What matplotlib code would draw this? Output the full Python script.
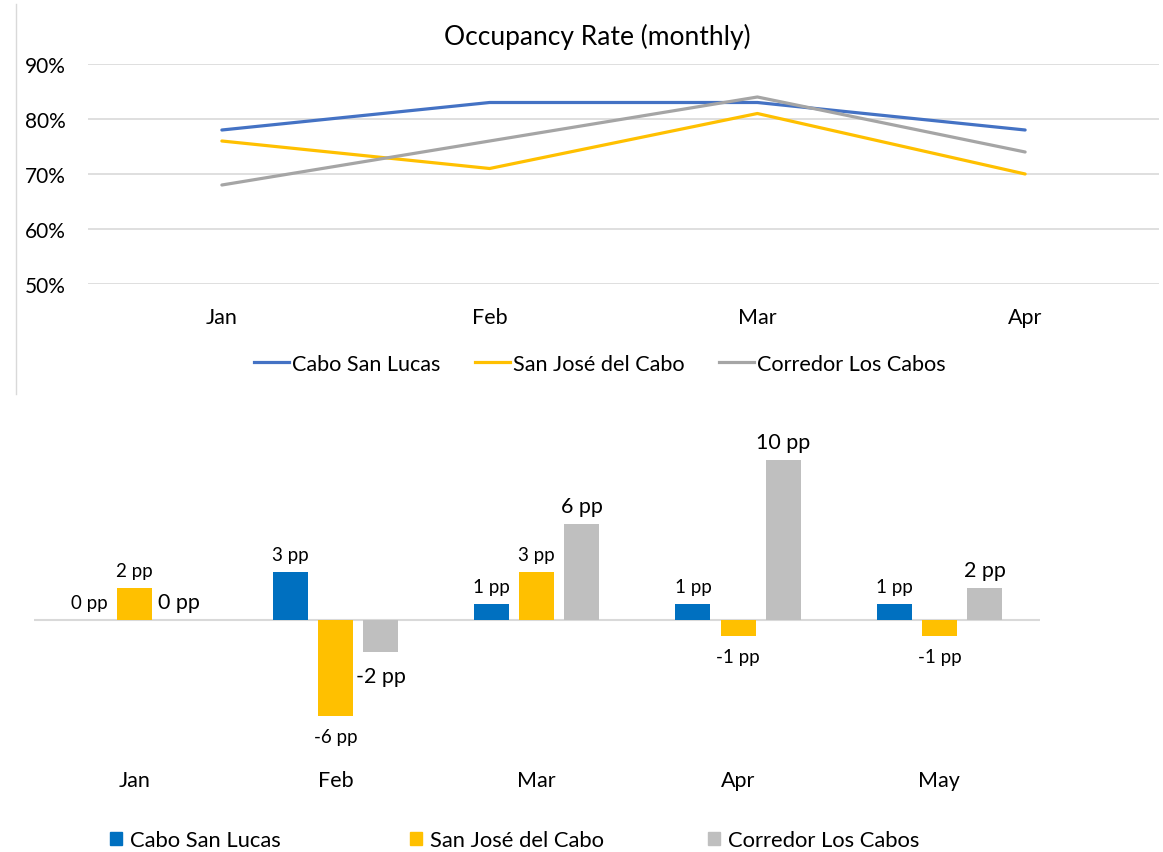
import matplotlib
matplotlib.use('Agg')
import matplotlib.pyplot as plt
from matplotlib.lines import Line2D
from matplotlib.patches import Patch

plt.rcParams['font.family'] = ['Lato', 'DejaVu Sans']

# datos
line_months = ['Jan', 'Feb', 'Mar', 'Apr']
cabo_occ = [0.78, 0.83, 0.83, 0.78]
sjc_occ = [0.76, 0.71, 0.81, 0.70]
corr_occ = [0.68, 0.76, 0.84, 0.74]
occ_ticks = [0.5, 0.6, 0.7, 0.8, 0.9]

bar_months = ['Jan', 'Feb', 'Mar', 'Apr', 'May']
cabo_pp = [0, 3, 1, 1, 1]
sjc_pp = [2, -6, 3, -1, -1]
corr_pp = [0, -2, 6, 10, 2]

series = ['Cabo San Lucas', 'San José del Cabo', 'Corredor Los Cabos']
line_colors = ['#4472C4', '#FFC000', '#A5A5A5']
bar_colors = ['#0070C0', '#FFC000', '#BFBFBF']

W, H = 1163, 853
PT = 0.72  # px -> pt a 100 dpi


def fx(px):
    return px / W


def fy(py):
    return 1 - py / H


fig = plt.figure(figsize=(W / 100, H / 100), dpi=100)

# borde izquierdo del gráfico de arriba
fig.add_artist(Line2D([fx(16), fx(16)], [fy(5), fy(395)], color='#D9D9D9', lw=1))

# ---- gráfico de líneas ----
ax1 = fig.add_axes([fx(88), fy(285), fx(1159) - fx(88), fy(65) - fy(285)])
x = range(len(line_months))
for vals, c, name in zip([cabo_occ, sjc_occ, corr_occ], line_colors, series):
    ax1.plot(x, vals, color=c, lw=2.3, solid_capstyle='round', label=name)
ax1.set_xlim(-0.5, len(line_months) - 0.5)
ax1.set_ylim(0.5, 0.9)
ax1.set_yticks(occ_ticks)
ax1.set_yticklabels([f'{int(round(v * 100))}%' for v in occ_ticks])
ax1.set_xticks(list(x))
ax1.set_xticklabels(line_months)
ax1.grid(axis='y', color='#D9D9D9', lw=1.2)
ax1.set_axisbelow(True)
for s in ax1.spines.values():
    s.set_visible(False)
ax1.tick_params(axis='y', length=0, pad=22 * PT, labelsize=15, labelcolor='#000000')
ax1.tick_params(axis='x', length=0, pad=23 * PT, labelsize=15.5, labelcolor='#000000')

fig.text(fx(597), fy(37), 'Occupancy Rate (monthly)', ha='center', va='center', fontsize=19)

handles = [Line2D([], [], color=c, lw=2.3) for c in line_colors]
fig.legend(handles, series, loc='center', bbox_to_anchor=(fx(600), fy(365)), ncol=3,
           frameon=False, fontsize=15.6, handlelength=1.6, handletextpad=0.15,
           columnspacing=1.6, borderpad=0, borderaxespad=0)

# ---- gráfico de barras ----
ax2 = fig.add_axes([fx(33.5), fy(765), fx(1040) - fx(33.5), fy(445) - fy(765)])
ax2.set_xlim(-0.5, len(bar_months) - 0.5)
ax2.set_ylim(-9, 11)
ax2.axhline(0, color='#D9D9D9', lw=1.5, zorder=1)
offsets = [-0.224, 0, 0.224]
width = 0.174
for i, (vals, c) in enumerate(zip([cabo_pp, sjc_pp, corr_pp], bar_colors)):
    xs = [k + offsets[i] for k in range(len(bar_months))]
    ax2.bar(xs, vals, width=width, color=c, zorder=2)
    big = (i == 2)
    fs = 15.5 if big else 13.5
    for xv, v in zip(xs, vals):
        if v >= 0:
            dy = (18 if big else 18) * PT
        else:
            dy = -(24 if big else 21) * PT
        ax2.annotate(f'{v} pp', (xv, v), xytext=(0, dy), textcoords='offset points',
                     ha='center', va='center', fontsize=fs)
ax2.set_xticks(range(len(bar_months)))
ax2.set_xticklabels(bar_months)
ax2.set_yticks([])
for s in ax2.spines.values():
    s.set_visible(False)
ax2.tick_params(axis='x', length=0, pad=6 * PT, labelsize=15.5)

# leyenda de abajo: una por serie
patch_left = [110, 410, 708]
for name, c, px in zip(series, bar_colors, patch_left):
    fig.legend([Patch(color=c)], [name], loc='center left',
               bbox_to_anchor=(fx(px), fy(841)), frameon=False, fontsize=15.8,
               handlelength=0.55, handleheight=0.55, handletextpad=0.35,
               borderpad=0, borderaxespad=0)

fig.savefig('out.png', dpi=100)
